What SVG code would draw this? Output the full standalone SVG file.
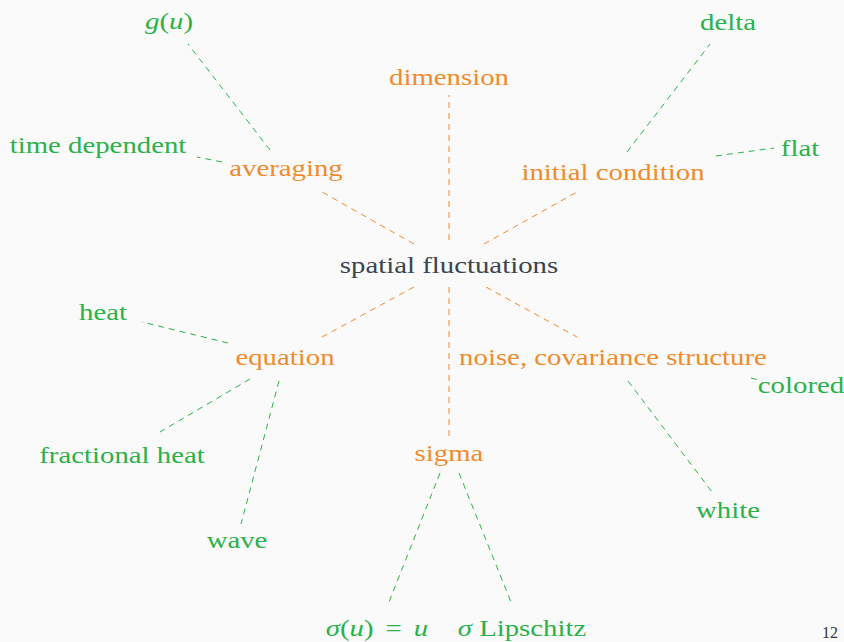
<svg xmlns="http://www.w3.org/2000/svg" width="844" height="642" viewBox="0 0 844 642">
  <style>
    text { font-family: "Liberation Serif", "Times New Roman", serif; font-size: 24px; text-anchor: middle; transform: scaleX(1.2); }
    .root { fill: #39444e; }
    .mid { fill: #ef8b2d; }
    .leaf { fill: #2bb14a; }
    .it { font-style: italic; }
    .edge { fill: none; stroke-width: 1; stroke-dasharray: 6 5; }
    .e-mid { stroke: #ef8b2d; }
    .e-leaf { stroke: #2bb14a; }
    text.page { fill: #333; font-size: 16px; transform: none; }
  </style>
  <rect width="844" height="642" fill="#fafafa"/>

  <g id="connectors">
    <line class="edge e-mid" x1="414" y1="244" x2="322" y2="192"/>
    <line class="edge e-mid" x1="449" y1="240" x2="449" y2="95"/>
    <line class="edge e-mid" x1="484" y1="244" x2="577" y2="192"/>
    <line class="edge e-mid" x1="414" y1="287" x2="322" y2="337"/>
    <line class="edge e-mid" x1="449" y1="287" x2="449" y2="437"/>
    <line class="edge e-mid" x1="486" y1="287" x2="577" y2="337"/>
    <line class="edge e-leaf" x1="270" y1="150" x2="188" y2="44"/>
    <line class="edge e-leaf" x1="222" y1="162" x2="197" y2="157"/>
    <line class="edge e-leaf" x1="627" y1="152" x2="710" y2="44"/>
    <line class="edge e-leaf" x1="716" y1="156" x2="774" y2="148"/>
    <line class="edge e-leaf" x1="228" y1="343" x2="142" y2="322"/>
    <line class="edge e-leaf" x1="250" y1="379" x2="160" y2="432"/>
    <line class="edge e-leaf" x1="279" y1="381" x2="241" y2="524"/>
    <line class="edge e-leaf" x1="751" y1="378" x2="762" y2="381"/>
    <line class="edge e-leaf" x1="628" y1="381" x2="712" y2="492"/>
    <line class="edge e-leaf" x1="440" y1="473" x2="389" y2="602"/>
    <line class="edge e-leaf" x1="459" y1="473" x2="511" y2="602"/>
  </g>

  <!-- each label sits at its centre/baseline; the text is widened about that point -->
  <g id="spatial-fluctuations" transform="translate(449 273)"><text class="root">spatial fluctuations</text></g>

  <g id="averaging" transform="translate(286 176)"><text class="mid">averaging</text></g>
  <g id="dimension" transform="translate(449 85)"><text class="mid">dimension</text></g>
  <g id="initial-condition" transform="translate(613 180)"><text class="mid">initial condition</text></g>
  <g id="equation" transform="translate(285 365)"><text class="mid">equation</text></g>
  <g id="noise" transform="translate(613 365)"><text class="mid">noise, covariance structure</text></g>
  <g id="sigma" transform="translate(449 461)"><text class="mid">sigma</text></g>

  <g id="g-u" transform="translate(169 29)"><text class="leaf"><tspan class="it">g</tspan>(<tspan class="it">u</tspan>)</text></g>
  <g id="time-dependent" transform="translate(98 153)"><text class="leaf">time dependent</text></g>
  <g id="delta" transform="translate(728 30)"><text class="leaf">delta</text></g>
  <g id="flat" transform="translate(800 156)"><text class="leaf">flat</text></g>
  <g id="heat" transform="translate(103 320)"><text class="leaf">heat</text></g>
  <g id="fractional-heat" transform="translate(122 463)"><text class="leaf">fractional heat</text></g>
  <g id="wave" transform="translate(237 548)"><text class="leaf">wave</text></g>
  <g id="colored" transform="translate(801 393)"><text class="leaf">colored</text></g>
  <g id="white" transform="translate(728 518)"><text class="leaf">white</text></g>
  <g id="sigma-u-eq-u" transform="translate(377 636)"><text class="leaf"><tspan class="it">σ</tspan>(<tspan class="it">u</tspan>)<tspan dx="4"> = </tspan><tspan class="it" dx="4">u</tspan></text></g>
  <g id="sigma-lipschitz" transform="translate(522 636)"><text class="leaf"><tspan class="it">σ</tspan> Lipschitz</text></g>

  <text class="page" x="830" y="638">12</text>
</svg>
